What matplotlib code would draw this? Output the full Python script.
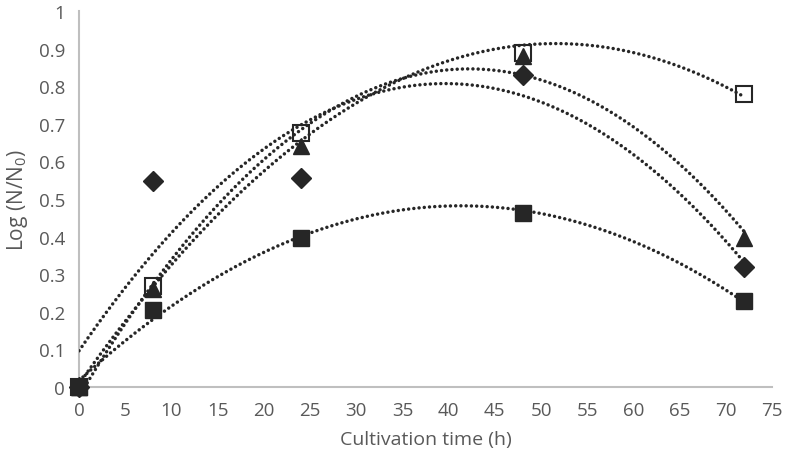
import matplotlib
matplotlib.use('Agg')
import matplotlib.pyplot as plt
import numpy as np

plt.rcParams['font.family'] = ['Open Sans', 'DejaVu Sans']
plt.rcParams['mathtext.fontset'] = 'custom'
plt.rcParams['mathtext.rm'] = 'Open Sans'
plt.rcParams['mathtext.it'] = 'Open Sans'

time_h = [0, 8, 24, 48, 72]
diamond = [0, 0.548, 0.556, 0.83, 0.32]
square_filled = [0, 0.205, 0.396, 0.463, 0.229]
triangle = [0, 0.26, 0.64, 0.88, 0.396]
square_open = [0, 0.269, 0.675, 0.888, 0.779]

x_ticks = list(range(0, 80, 5))
y_ticks = [0, 0.1, 0.2, 0.3, 0.4, 0.5, 0.6, 0.7, 0.8, 0.9, 1]
y_tick_labels = ['0', '0.1', '0.2', '0.3', '0.4', '0.5', '0.6', '0.7', '0.8', '0.9', '1']

text_col = '#595959'
axis_col = '#bfbfbf'
mark_col = '#262626'

fig = plt.figure(figsize=(7.88, 4.64), dpi=100)
ax = fig.add_axes([0.1003, 0.1638, 0.8794, 0.8102])

# drawing order matters: the filled square ends up on top at t=0
series = [
    (square_open, dict(marker='s', markersize=11, markerfacecolor='white', markeredgecolor=mark_col, markeredgewidth=1.5)),
    (diamond, dict(marker='D', markersize=10, markerfacecolor=mark_col, markeredgecolor=mark_col)),
    (triangle, dict(marker='^', markersize=12, markerfacecolor=mark_col, markeredgecolor=mark_col)),
    (square_filled, dict(marker='s', markersize=12, markerfacecolor=mark_col, markeredgecolor=mark_col)),
]

xs = np.linspace(0, 72, 300)
for ys, style in series:
    ax.plot(time_h, ys, linestyle='none', zorder=3, clip_on=False, **style)

# order-2 polynomial trendlines, as in the spreadsheet chart
for ys, style in series:
    coef = np.polyfit(time_h, ys, 2)
    ax.plot(xs, np.polyval(coef, xs), color=mark_col, linewidth=2.5,
            linestyle=(0, (0.01, 1.5)), dash_capstyle='round', zorder=4)

ax.set_xlim(0, 75)
ax.set_ylim(0, 1)
ax.set_xticks(x_ticks)
ax.set_yticks(y_ticks)
ax.set_yticklabels(y_tick_labels)

for s in ['top', 'right']:
    ax.spines[s].set_visible(False)
for s in ['left', 'bottom']:
    ax.spines[s].set_color(axis_col)
    ax.spines[s].set_linewidth(1.5)

ax.tick_params(length=0, labelsize=13.5, colors=text_col, pad=10)
ax.set_xlabel('Cultivation time (h)', fontsize=14, color=text_col, labelpad=8)
ax.set_ylabel(r'Log (N/N$_{0}$)', fontsize=15, color=text_col, labelpad=6)

fig.savefig('out.png', dpi=100)
